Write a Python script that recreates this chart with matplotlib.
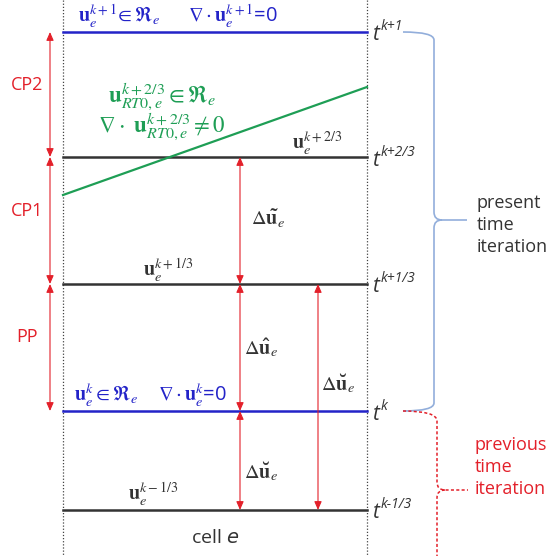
import matplotlib.pyplot as plt
from matplotlib.path import Path
from matplotlib.patches import PathPatch

plt.rcParams['font.family'] = ['Open Sans', 'DejaVu Sans']
plt.rcParams['mathtext.fontset'] = 'stix'

# colours
blue = '#2323C8'
green = '#1E9E55'
red = '#E3202A'
dark = '#333333'
brace_blue = '#92AEDB'

# cell edges and time levels (pixel units of the diagram)
cell_x = [63, 367]
level_names = ['k+1', 'k+2/3', 'k+1/3', 'k', 'k-1/3']
level_y = [32, 157, 284, 411, 510]
level_colors = [blue, dark, dark, blue, dark]
green_y = [195, 87]   # RT0 line at left / right cell edge

# increments between levels: (x, from level, to level)
step_x = [50, 50, 50, 240, 240, 240, 318]
step_from = [0, 1, 2, 1, 2, 3, 2]
step_to = [1, 2, 3, 2, 3, 4, 4]

fig = plt.figure(figsize=(5.5, 5.56), dpi=100)
ax = fig.add_axes([0, 0, 1, 1])
ax.set_xlim(0, 550)
ax.set_ylim(556, 0)
ax.axis('off')

# dotted cell boundaries
for x in cell_x:
    ax.plot([x, x], [0, 556], color='#444444', ls=(0, (1, 1.5)), lw=0.9)

# time levels
for name, y, c in zip(level_names, level_y, level_colors):
    ax.plot(cell_x, [y, y], color=c, lw=1.8)
    ax.text(cell_x[1] + 5, y + 3, 't', fontsize=15, style='italic',
            color=dark, va='center', ha='left')
    ax.text(cell_x[1] + 14, y - 5, name, fontsize=10, style='italic',
            color=dark, va='center', ha='left')

# RT0 projected field
ax.plot(cell_x, green_y, color=green, lw=1.6)

# increment arrows
for x, a, b in zip(step_x, step_from, step_to):
    ax.annotate('', xy=(x, level_y[b]), xytext=(x, level_y[a]),
                arrowprops=dict(arrowstyle='<|-|>,head_length=0.5,head_width=0.22',
                                color=red, lw=0.8,
                                mutation_scale=10, shrinkA=0, shrinkB=0))

# step names
for txt, a, b in zip(['CP2', 'CP1', 'PP'], [0, 1, 2], [1, 2, 3]):
    ax.text(27, (level_y[a] + level_y[b]) / 2 - 10, txt, color=red,
            fontsize=13, ha='center', va='center')

# labels of the states
ax.text(78, 16, r'$\mathbf{u}_e^{k+1}\!\in\Re_e$', color=blue, fontsize=14.5,
        va='center')
ax.text(188, 16, r'$\nabla\cdot\mathbf{u}_e^{k+1}$=0', color=blue, fontsize=14.5,
        va='center')
ax.text(74, 395, r'$\mathbf{u}_e^{k}\in\Re_e$', color=blue, fontsize=14.5,
        va='center')
ax.text(158, 395, r'$\nabla\cdot\mathbf{u}_e^{k}$=0', color=blue, fontsize=14.5,
        va='center')

ax.text(162, 97, r'$\mathbf{u}_{RT0,e}^{k+2/3}\in\Re_e$', color=green,
        fontsize=16.5, ha='center', va='center')
ax.text(162, 127, r'$\nabla\cdot\ \mathbf{u}_{RT0,e}^{k+2/3}\neq 0$',
        color=green, fontsize=16.5, ha='center', va='center')

ax.text(292, 143, r'$\mathbf{u}_e^{k+2/3}$', color=dark, fontsize=14.5,
        va='center')
ax.text(143, 270, r'$\mathbf{u}_e^{k+1/3}$', color=dark, fontsize=14.5,
        va='center')
ax.text(128, 494, r'$\mathbf{u}_e^{k-1/3}$', color=dark, fontsize=14.5,
        va='center')

ax.text(251, 219, r'$\Delta\mathbf{\tilde{u}}_e$', color=dark, fontsize=14.5,
        va='center')
ax.text(244, 348, r'$\Delta\mathbf{\hat{u}}_e$', color=dark, fontsize=14.5,
        va='center')
ax.text(321, 384, r'$\Delta\mathbf{\breve{u}}_e$', color=dark, fontsize=14.5,
        va='center')
ax.text(244, 472, r'$\Delta\mathbf{\breve{u}}_e$', color=dark, fontsize=14.5,
        va='center')

ax.text(215, 538, r'cell $e$', color=dark, fontsize=14, ha='center',
        va='center', math_fontfamily='dejavusans')


def brace(x0, x1, xtip, ytop, ytip, ybot, color, ls, r=8):
    verts = [(x0, ytop), (x1, ytop), (x1, ytop + r),
             (x1, ytip - r), (x1, ytip), (x1 + r, ytip), (xtip, ytip),
             (x1 + r, ytip), (x1, ytip), (x1, ytip + r), (x1, ybot - r),
             (x1, ybot), (x0, ybot)]
    codes = [Path.MOVETO, Path.CURVE3, Path.CURVE3,
             Path.LINETO, Path.CURVE3, Path.CURVE3, Path.LINETO,
             Path.MOVETO, Path.CURVE3, Path.CURVE3, Path.LINETO,
             Path.CURVE3, Path.CURVE3]
    ax.add_patch(PathPatch(Path(verts, codes), fill=False, ec=color, lw=1.2,
                           ls=ls))


brace(403, 434, 467, level_y[0], 220, level_y[3], brace_blue, '-')
# previous iteration brace: starts at t^k, runs off the bottom
pv = [(403, level_y[3]), (437, level_y[3]), (437, level_y[3] + 10),
      (437, 482), (437, 490), (445, 490), (468, 490),
      (445, 490), (437, 490), (437, 498), (437, 560)]
pc = [Path.MOVETO, Path.CURVE3, Path.CURVE3, Path.LINETO, Path.CURVE3,
      Path.CURVE3, Path.LINETO, Path.MOVETO, Path.CURVE3, Path.CURVE3,
      Path.LINETO]
ax.add_patch(PathPatch(Path(pv, pc), fill=False, ec=red, lw=1.1,
                       ls=(0, (2, 1.5))))

ax.text(477, 225, 'present\ntime\niteration', color=dark, fontsize=13,
        va='center', ha='left', linespacing=1.25)
ax.text(475, 467, 'previous\ntime\niteration', color=red, fontsize=13,
        va='center', ha='left', linespacing=1.25)

fig.savefig('out.png', dpi=100, facecolor='white')
